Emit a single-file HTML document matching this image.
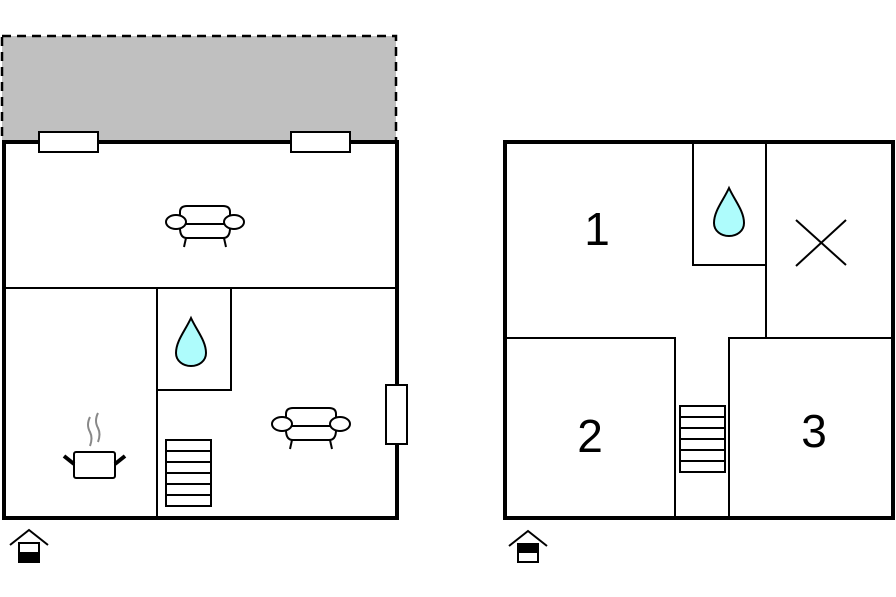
<!DOCTYPE html>
<html><head><style>html,body{margin:0;padding:0;background:#fff;}svg{display:block}</style></head>
<body>
<svg width="896" height="597" viewBox="0 0 896 597" xmlns="http://www.w3.org/2000/svg">
<defs>
<g id="sofa" fill="#fff" stroke="#000" stroke-width="2">
  <path d="M-25,4 Q-25,14 -18,14 L18,14 Q25,14 25,4 L25,-12 Q25,-18 18,-18 L-18,-18 Q-25,-18 -25,-12 Z"/>
  <line x1="-22" y1="0" x2="22" y2="0"/>
  <ellipse cx="-29" cy="-2" rx="10" ry="7"/>
  <ellipse cx="29" cy="-2" rx="10" ry="7"/>
  <line x1="-19" y1="14" x2="-21" y2="23"/>
  <line x1="19" y1="14" x2="21" y2="23"/>
</g>
<g id="drop"><path d="M0,-26 C6,-13 15,-3 15,9 C15,17 8,22 0,22 C-8,22 -15,17 -15,9 C-15,-3 -6,-13 0,-26 Z" fill="#aefcfc" stroke="#000" stroke-width="2"/></g>
<g id="stairs" fill="#fff" stroke="#000" stroke-width="2">
  <rect x="0" y="0" width="45" height="66"/>
  <line x1="0" y1="11" x2="45" y2="11"/><line x1="0" y1="22" x2="45" y2="22"/>
  <line x1="0" y1="33" x2="45" y2="33"/><line x1="0" y1="44" x2="45" y2="44"/>
  <line x1="0" y1="55" x2="45" y2="55"/>
</g>
</defs>
<!-- terrace -->
<rect x="2" y="36" width="394" height="106" fill="#c0c0c0" stroke="#000" stroke-width="2.5" stroke-dasharray="9,6"/>
<!-- left building -->
<rect x="4" y="142" width="393" height="376" fill="#fff" stroke="#000" stroke-width="4"/>
<rect x="39" y="132" width="59" height="20" fill="#fff" stroke="#000" stroke-width="2"/>
<rect x="291" y="132" width="59" height="20" fill="#fff" stroke="#000" stroke-width="2"/>
<g stroke="#000" stroke-width="2" fill="none">
<line x1="4" y1="288" x2="397" y2="288"/>
<line x1="157" y1="288" x2="157" y2="518"/>
<rect x="157" y="288" width="74" height="102"/>
</g>
<rect x="386" y="385" width="21" height="59" fill="#fff" stroke="#000" stroke-width="2"/>
<use href="#sofa" x="205" y="224"/>
<use href="#sofa" x="311" y="426"/>
<use href="#drop" x="191" y="344"/>
<use href="#stairs" x="166" y="440"/>
<!-- pot -->
<g stroke="#000" stroke-width="2">
<rect x="74" y="452" width="41" height="26" rx="2" fill="#fff"/>
<line x1="64" y1="456" x2="74" y2="464" stroke-width="4"/>
<line x1="125" y1="456" x2="115" y2="464" stroke-width="4"/>
</g>
<g stroke="#888" stroke-width="2" fill="none">
<path d="M90,417 Q86,425 90,432 Q93,438 90,446"/>
<path d="M98,413 Q94,421 98,428 Q101,434 98,442"/>
</g>
<!-- entrance left -->
<g stroke="#000" stroke-width="2" fill="#fff">
<polyline points="10,545 29,530 48,545" fill="none"/>
<rect x="19" y="543" width="20" height="18"/>
<rect x="19" y="553" width="20" height="9" fill="#000"/>
</g>
<!-- right building -->
<rect x="505" y="142" width="388" height="376" fill="#fff" stroke="#000" stroke-width="4"/>
<g stroke="#000" stroke-width="2" fill="none">
<polyline points="693,142 693,265 766,265"/>
<line x1="766" y1="142" x2="766" y2="338"/>
<polyline points="505,338 675,338 675,518"/>
<polyline points="893,338 729,338 729,518"/>
<line x1="796" y1="220" x2="846" y2="265"/>
<line x1="846" y1="220" x2="796" y2="266"/>
</g>
<use href="#drop" x="729" y="214"/>
<use href="#stairs" x="680" y="406"/>
<g font-family="Liberation Sans, sans-serif" font-size="46" text-anchor="middle" fill="#000">
<text x="597" y="245">1</text>
<text x="590" y="452">2</text>
<text x="814" y="447">3</text>
</g>
<!-- entrance right -->
<g stroke="#000" stroke-width="2" fill="#fff">
<polyline points="509,546 528,531 547,546" fill="none"/>
<rect x="518" y="544" width="20" height="18"/>
<rect x="518" y="544" width="20" height="8" fill="#000"/>
</g>
</svg>
</body></html>
